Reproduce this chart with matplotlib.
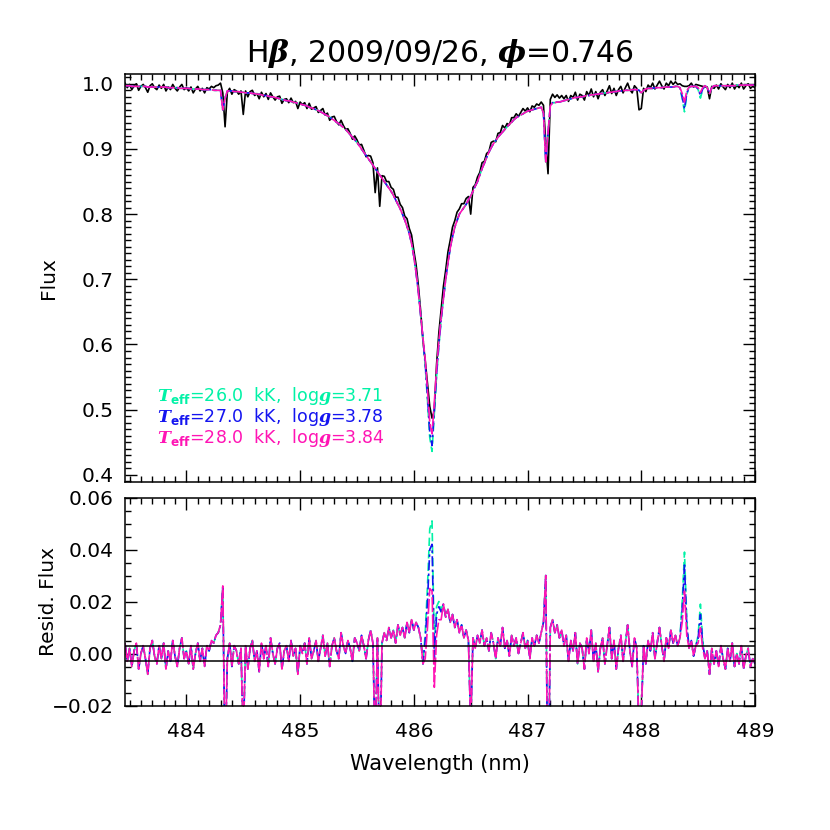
import numpy as np
import matplotlib
matplotlib.use("Agg")
import matplotlib.pyplot as plt
from matplotlib.ticker import MultipleLocator

plt.rcParams["font.family"] = ["DejaVu Sans"]
plt.rcParams["mathtext.fontset"] = "custom"
plt.rcParams["mathtext.rm"] = "DejaVu Sans"
plt.rcParams["mathtext.it"] = "DejaVu Sans:italic"
plt.rcParams["mathtext.bf"] = "DejaVu Sans:bold"
try:
    plt.rcParams["mathtext.bfit"] = "DejaVu Serif:bold:italic"
except KeyError:
    pass

# spectrum sampled every 0.02 nm, 483.46 .. 489.00 nm
wave_start = 483.46
wave_step = 0.02

# 27 kK model flux
model_27 = [
    .997, .997, .997, .996, .996, .996, .996, .996, .996, .996,
    .995, .995, .995, .995, .995, .995, .995, .995, .995, .994,
    .994, .994, .994, .994, .993, .993, .993, .993, .993, .992,
    .992, .992, .992, .992, .991, .991, .991, .991, .991, .990,
    .990, .990, .990, .960, .978, .989, .989, .989, .988, .988,
    .988, .987, .987, .986, .986, .986, .985, .985, .984, .984,
    .983, .982, .982, .981, .980, .980, .979, .978, .977, .976,
    .975, .974, .974, .973, .972, .971, .970, .969, .968, .967,
    .966, .964, .963, .962, .960, .959, .957, .955, .953, .951,
    .949, .946, .944, .941, .939, .936, .933, .930, .926, .922,
    .918, .914, .910, .905, .900, .895, .890, .885, .880, .875,
    .870, .865, .860, .855, .850, .845, .840, .835, .829, .822,
    .815, .808, .800, .791, .781, .770, .755, .735, .710, .680,
    .645, .610, .570, .520, .465, .445, .500, .555, .600, .638,
    .670, .700, .725, .748, .765, .780, .790, .800, .805, .810,
    .815, .822, .828, .835, .843, .850, .860, .870, .878, .887,
    .895, .902, .908, .913, .918, .922, .926, .930, .934, .938,
    .941, .945, .948, .950, .952, .954, .956, .958, .959, .960,
    .961, .962, .963, .964, .955, .880, .925, .966, .971, .971,
    .972, .972, .973, .974, .975, .976, .977, .978, .979, .979,
    .980, .980, .981, .982, .982, .983, .983, .984, .984, .985,
    .985, .986, .986, .987, .987, .988, .988, .989, .989, .989,
    .990, .990, .990, .991, .991, .991, .990, .986, .990, .992,
    .993, .993, .993, .994, .994, .994, .994, .995, .995, .995,
    .995, .995, .996, .996, .994, .980, .962, .985, .995, .996,
    .996, .996, .992, .982, .992, .997, .994, .985, .994, .997,
    .997, .997, .997, .997, .997, .997, .997, .997, .997, .998,
    .998, .998, .998, .998, .998, .998, .998, .998,
]

# observed minus 27 kK model
resid_27 = [
    .004, -.003, .002, -.005, .001, .004, -.006, .000, .003, -.002,
    -.008, .002, .005, -.001, -.004, .003, -.002, .004, -.006, .001,
    -.003, .005, -.001, -.005, .002, .006, -.002, .001, -.004, .003,
    -.006, .000, .004, -.003, .002, -.005, .003, .001, .005, .004,
    .007, .008, .011, .026, -.044, -.002, .004, -.005, .003, .001,
    -.004, .002, -.034, .003, -.006, .002, .005, -.003, .001, -.007,
    .004, -.002, .003, -.005, .006, .000, -.004, .002, .004, -.006,
    .001, .003, -.003, .005, -.001, .002, -.008, .003, .000, .004,
    -.004, .006, -.002, .001, .005, -.003, .002, .007, -.001, .004,
    -.005, .003, .006, .001, -.002, .008, .003, .000, .005, .002,
    -.003, .006, .004, .001, .007, .003, -.002, .005, .009, .004,
    -.037, .006, -.048, .004, .008, .005, .010, .006, .009, .004,
    .011, .007, .010, .006, .012, .008, .013, .009, .012, .010,
    .006, -.004, .005, .020, .040, .042, -.002, .015, .018, .016,
    .019, .014, .017, .012, .015, .010, .013, .008, .011, .006,
    .009, .005, -.028, .006, .002, .007, .004, .009, .003, .006,
    .001, .008, .004, -.002, .006, .003, .010, .002, .005, -.001,
    .007, .003, .006, .000, .004, .008, .002, .005, -.002, .006,
    .003, .007, .004, .008, .012, .030, -.063, .010, .013, .008,
    .011, .006, .009, .003, .007, -.003, .005, .001, .008, -.004,
    .004, .002, -.006, .006, .000, .009, -.003, .004, -.007, .002,
    .006, -.004, .003, .010, -.002, .005, -.006, .002, .007, -.003,
    .004, .011, .001, -.005, .006, .002, -.030, -.024, .003, -.004,
    .005, .001, .008, -.002, .004, .010, .003, -.003, .006, .002,
    .009, .004, .007, .003, .006, .017, .034, .011, .002, .005,
    -.001, .003, .006, .015, .004, -.002, .001, -.008, .002, -.004,
    .001, -.005, .003, -.002, -.006, .002, -.003, .004, -.005, .000,
    -.004, .003, -.006, -.001, .002, -.005, -.002, -.004,
]

# samples where the 26 kK / 28 kK models differ from the 27 kK one
diff_index = [132, 133, 134, 135, 136, 137, 138, 139, 245, 246, 247, 252, 253, 254]
model_26_diff = [.567, .514, .457, .436, .495, .552, .598, .637, .977, .957, .983, .991, .978, .991]
model_28_diff = [.577, .530, .480, .463, .511, .563, .605, .641, .985, .972, .989, .994, .987, .994]

model_labels = [
    r"$\mathbfit{T}_{\mathbf{eff}}$=26.0  kK,  log$\mathbfit{g}$=3.71",
    r"$\mathbfit{T}_{\mathbf{eff}}$=27.0  kK,  log$\mathbfit{g}$=3.78",
    r"$\mathbfit{T}_{\mathbf{eff}}$=28.0  kK,  log$\mathbfit{g}$=3.84",
]
model_colors = ["#00F2A6", "#1414F0", "#FF14B4"]
model_styles = [(0, (5, 2.5)), (0, (6, 2, 1.5, 2)), (0, (9, 1.5))]

n = len(model_27)
wave = wave_start + wave_step * np.arange(n)
m27 = np.array(model_27)
obs = m27 + np.array(resid_27)
m26 = m27.copy()
m26[diff_index] = model_26_diff
m28 = m27.copy()
m28[diff_index] = model_28_diff
models = [m26, m27, m28]

fig = plt.figure(figsize=(8.3, 8.3), dpi=100)
ax1 = fig.add_axes([125 / 830, 1 - 482 / 830, 630 / 830, 408 / 830])
ax2 = fig.add_axes([125 / 830, 1 - 705.5 / 830, 630 / 830, 208 / 830])

ax1.plot(wave, obs, color="black", lw=1.2)
for m, c, ls in zip(models, model_colors, model_styles):
    ax1.plot(wave, m, color=c, ls=ls, lw=1.2)

ytxt = [0.521, 0.489, 0.457]
for lab, c, yt in zip(model_labels, model_colors, ytxt):
    ax1.text(483.745, yt, lab, color=c, fontsize=12.5, va="center", ha="left")

for m, c, ls in zip(models, model_colors, model_styles):
    ax2.plot(wave, obs - m, color=c, ls=ls, lw=1.2)
ax2.axhline(0.003, color="black", lw=1.1)
ax2.axhline(-0.003, color="black", lw=1.1)

ax1.set_xlim(483.46, 489.0)
ax1.set_ylim(0.389, 1.015)
ax2.set_xlim(483.46, 489.0)
ax2.set_ylim(-0.02, 0.06)

ax1.yaxis.set_major_locator(MultipleLocator(0.1))
ax1.yaxis.set_minor_locator(MultipleLocator(0.01))
ax2.yaxis.set_major_locator(MultipleLocator(0.02))
ax2.yaxis.set_minor_locator(MultipleLocator(0.005))
for ax in (ax1, ax2):
    ax.xaxis.set_major_locator(MultipleLocator(1))
    ax.xaxis.set_minor_locator(MultipleLocator(0.1))
    ax.tick_params(which="both", direction="in", top=True, right=True,
                   width=1.0, labelsize=14.5)
    ax.tick_params(which="major", length=8.5)
    ax.tick_params(which="minor", length=4.5)
    ax.tick_params(axis="y", pad=8)
    ax.tick_params(axis="x", pad=12)
    for s in ax.spines.values():
        s.set_linewidth(1.1)

ax1.tick_params(labelbottom=False)
ax1.yaxis.set_major_formatter(plt.FuncFormatter(lambda v, p: "%.1f" % v))
ax2.yaxis.set_major_formatter(plt.FuncFormatter(
    lambda v, p: ("%.2f" % v).replace("-", "\u2212")))

ax1.set_ylabel("Flux", fontsize=14.5)
ax2.set_ylabel("Resid. Flux", fontsize=14.5)
ax1.yaxis.set_label_coords(-0.106, 0.5)
ax2.yaxis.set_label_coords(-0.106, 0.5)
ax2.set_xlabel("Wavelength (nm)", fontsize=15, labelpad=9)

ax1.set_title(r"H$\mathbfit{\beta}$, 2009/09/26, $\mathbfit{\phi}$=0.746",
              fontsize=21.5, pad=9)

fig.savefig("out.png", dpi=100)
